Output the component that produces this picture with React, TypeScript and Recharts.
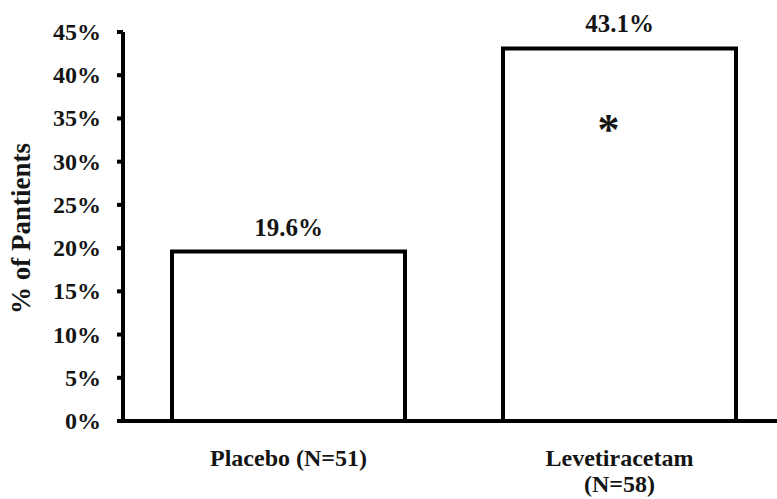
import React from "react";
import { BarChart, Bar, XAxis, YAxis, LabelList, Label } from "recharts";

const categories = ["Placebo (N=51)", "Levetiracetam\n(N=58)"];
const values = [19.6, 43.1];
const significance = ["", "*"];
const yTicks = [0, 5, 10, 15, 20, 25, 30, 35, 40, 45];
const yAxisTitle = "% of Pantients";

const data = categories.map((c, i) => ({ name: c, value: values[i], sig: significance[i] }));

const FONT = '"Liberation Serif", "Times New Roman", serif';
const INK = "#151515";

const YTick = (props: any) => {
  const { x, y, payload } = props;
  return (
    <text x={x} y={y} dy={8} textAnchor="end" fontFamily={FONT} fontWeight="bold" fontSize={24} fill={INK}>
      {`${payload.value}%`}
    </text>
  );
};

const XTick = (props: any) => {
  const { x, y, payload } = props;
  const lines = String(payload.value).split("\n");
  return (
    <text x={x} y={y} textAnchor="middle" fontFamily={FONT} fontWeight="bold" fontSize={24} fill={INK}>
      {lines.map((l: string, i: number) => (
        <tspan key={i} x={x} dy={i === 0 ? 37 : 26}>{l}</tspan>
      ))}
    </text>
  );
};

const ValueLabel = (props: any) => {
  const { x, y, width, value } = props;
  return (
    <text x={x + width / 2} y={y - 16} textAnchor="middle" fontFamily={FONT} fontWeight="bold" fontSize={25} fill={INK}>
      {`${value}%`}
    </text>
  );
};

const SigLabel = (props: any) => {
  const { x, y, width, value } = props;
  if (!value) return null;
  return (
    <text x={x + width / 2 - 11} y={y + 96} textAnchor="middle" fontFamily={FONT} fontWeight="bold" fontSize={44} fill={INK}>
      {value}
    </text>
  );
};

export default function App() {
  return (
    <div style={{ position: "absolute", left: 0, top: 0, width: 777, height: 499, overflow: "hidden", background: "#fff" }}>
      <BarChart width={790} height={499} data={data} margin={{ top: 32, right: 5, bottom: 0, left: 0 }} barSize={233}>
        <XAxis
          dataKey="name"
          height={78}
          tickLine={false}
          axisLine={{ stroke: "#000", strokeWidth: 4 }}
          tick={<XTick />}
          interval={0}
        />
        <YAxis
          width={123}
          domain={[0, 45]}
          ticks={yTicks}
          interval={0}
          tickSize={6}
          tickMargin={16}
          tickLine={{ stroke: "#000", strokeWidth: 4 }}
          axisLine={{ stroke: "#000", strokeWidth: 4 }}
          tick={<YTick />}
        >
          <Label
            value={yAxisTitle}
            angle={-90}
            position="insideLeft"
            offset={0}
            content={(p: any) => {
              const vb = p.viewBox || {};
              const cy = vb.y + vb.height / 2 + 2;
              return (
                <text x={30} y={cy} transform={`rotate(-90, 30, ${cy})`} textAnchor="middle" fontFamily={FONT} fontWeight="bold" fontSize={27} fill={INK}>
                  {yAxisTitle}
                </text>
              );
            }}
          />
        </YAxis>
        <Bar dataKey="value" fill="#fff" stroke="#000" strokeWidth={4} isAnimationActive={false}>
          <LabelList dataKey="value" content={<ValueLabel />} />
          <LabelList dataKey="sig" content={<SigLabel />} />
        </Bar>
      </BarChart>
    </div>
  );
}
